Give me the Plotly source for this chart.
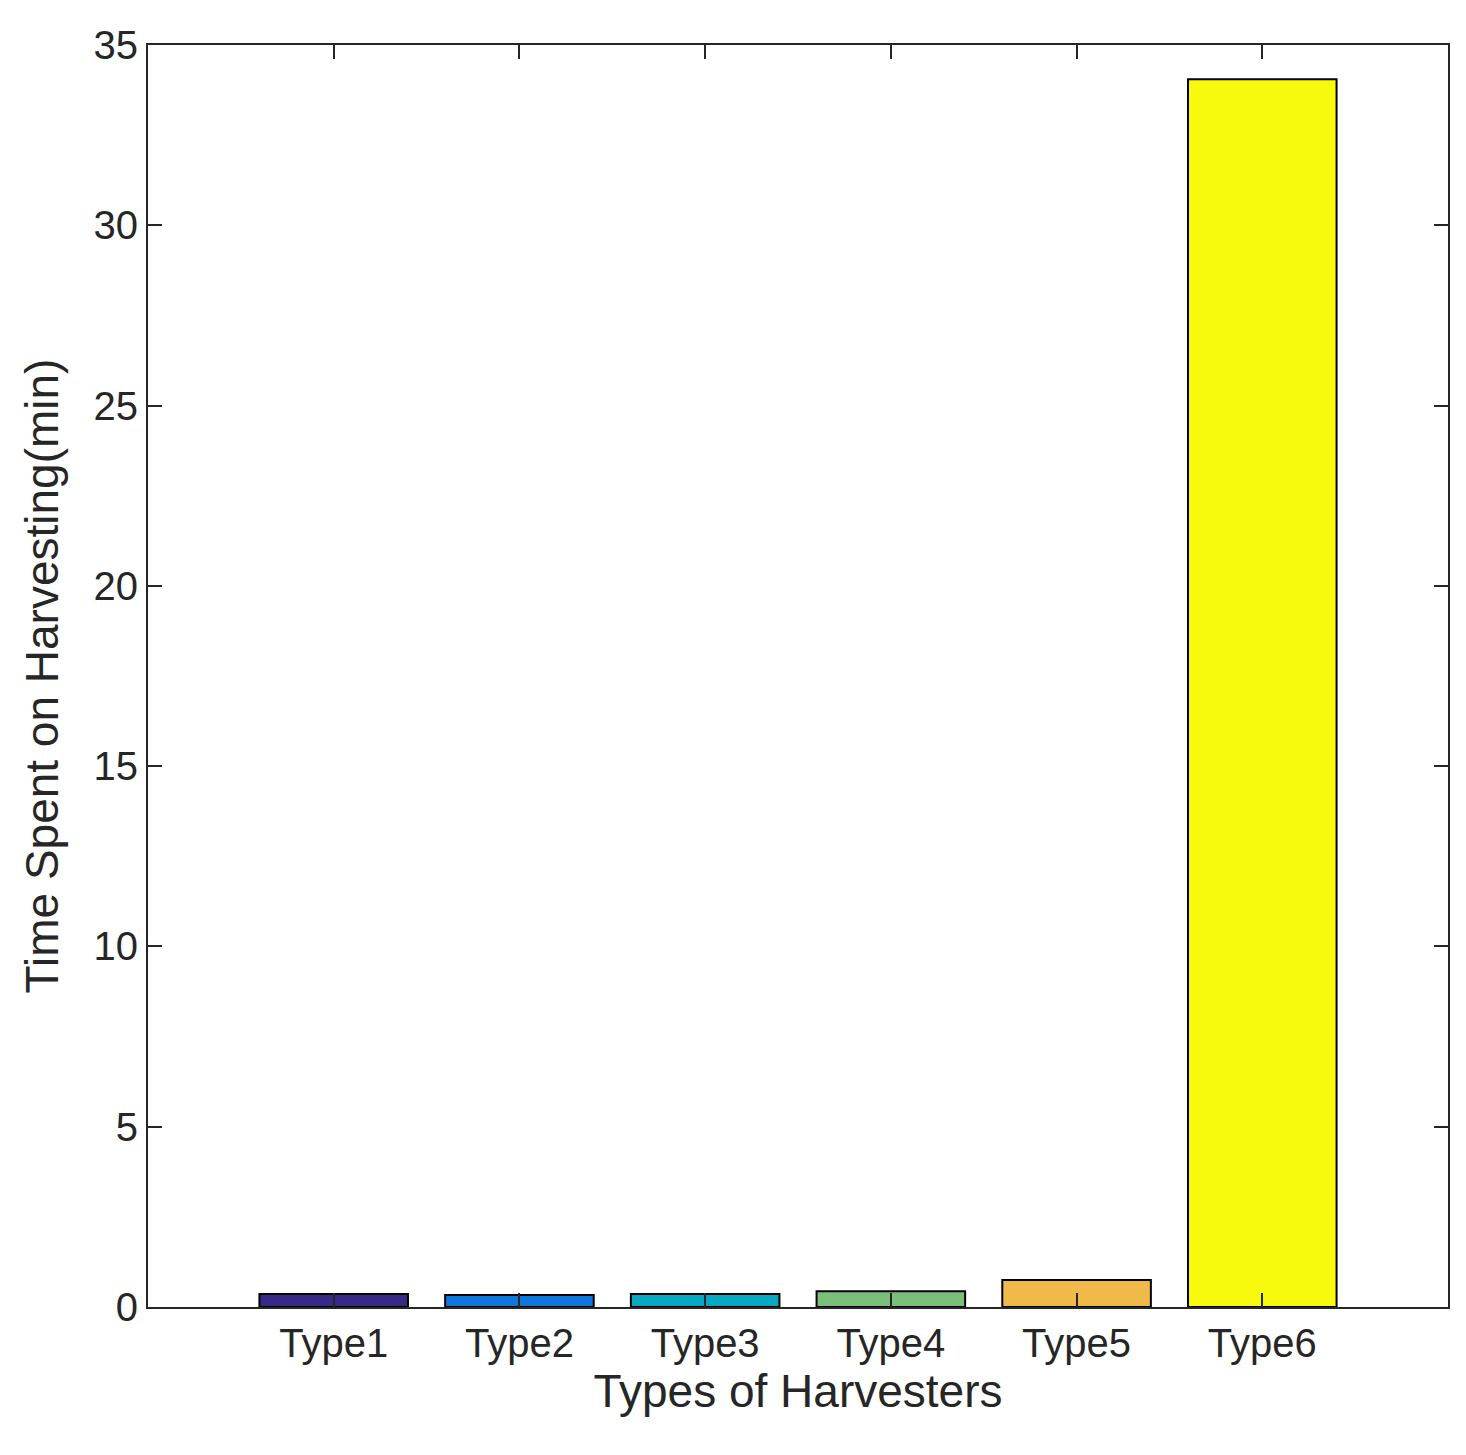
import plotly.graph_objects as go

categories = ["Type1", "Type2", "Type3", "Type4", "Type5", "Type6"]
positions = [1, 2, 3, 4, 5, 6]
values = [0.36, 0.33, 0.36, 0.44, 0.75, 34.05]
colors = ["#352a87", "#0f77db", "#07a9c2", "#7cbf7b", "#f1b94a", "#f8fa0d"]

fig = go.Figure(go.Bar(x=positions, y=values, width=0.8, marker=dict(color=colors, line=dict(color="black", width=2))))
font = "Liberation Sans Narrow, Liberation Sans, Arial"
fig.update_layout(
    width=1466, height=1455, plot_bgcolor="white", paper_bgcolor="white",
    margin=dict(l=140, r=26, t=37, b=156), showlegend=False,
    font=dict(family=font, size=40, color="#262626"),
)
axis = dict(showline=True, linecolor="#262626", linewidth=2, mirror="ticks", ticks="inside",
            ticklen=14, tickwidth=2, tickcolor="#262626", showgrid=False, zeroline=False)
fig.update_xaxes(range=[0, 7], tickvals=positions, ticktext=categories,
                 title=dict(text="Types of Harvesters", font=dict(size=46), standoff=10), **axis)
fig.update_yaxes(range=[0, 35], dtick=5,
                 title=dict(text="Time Spent on Harvesting(min)", font=dict(size=46), standoff=20), **axis)
fig.write_html("out.html")
